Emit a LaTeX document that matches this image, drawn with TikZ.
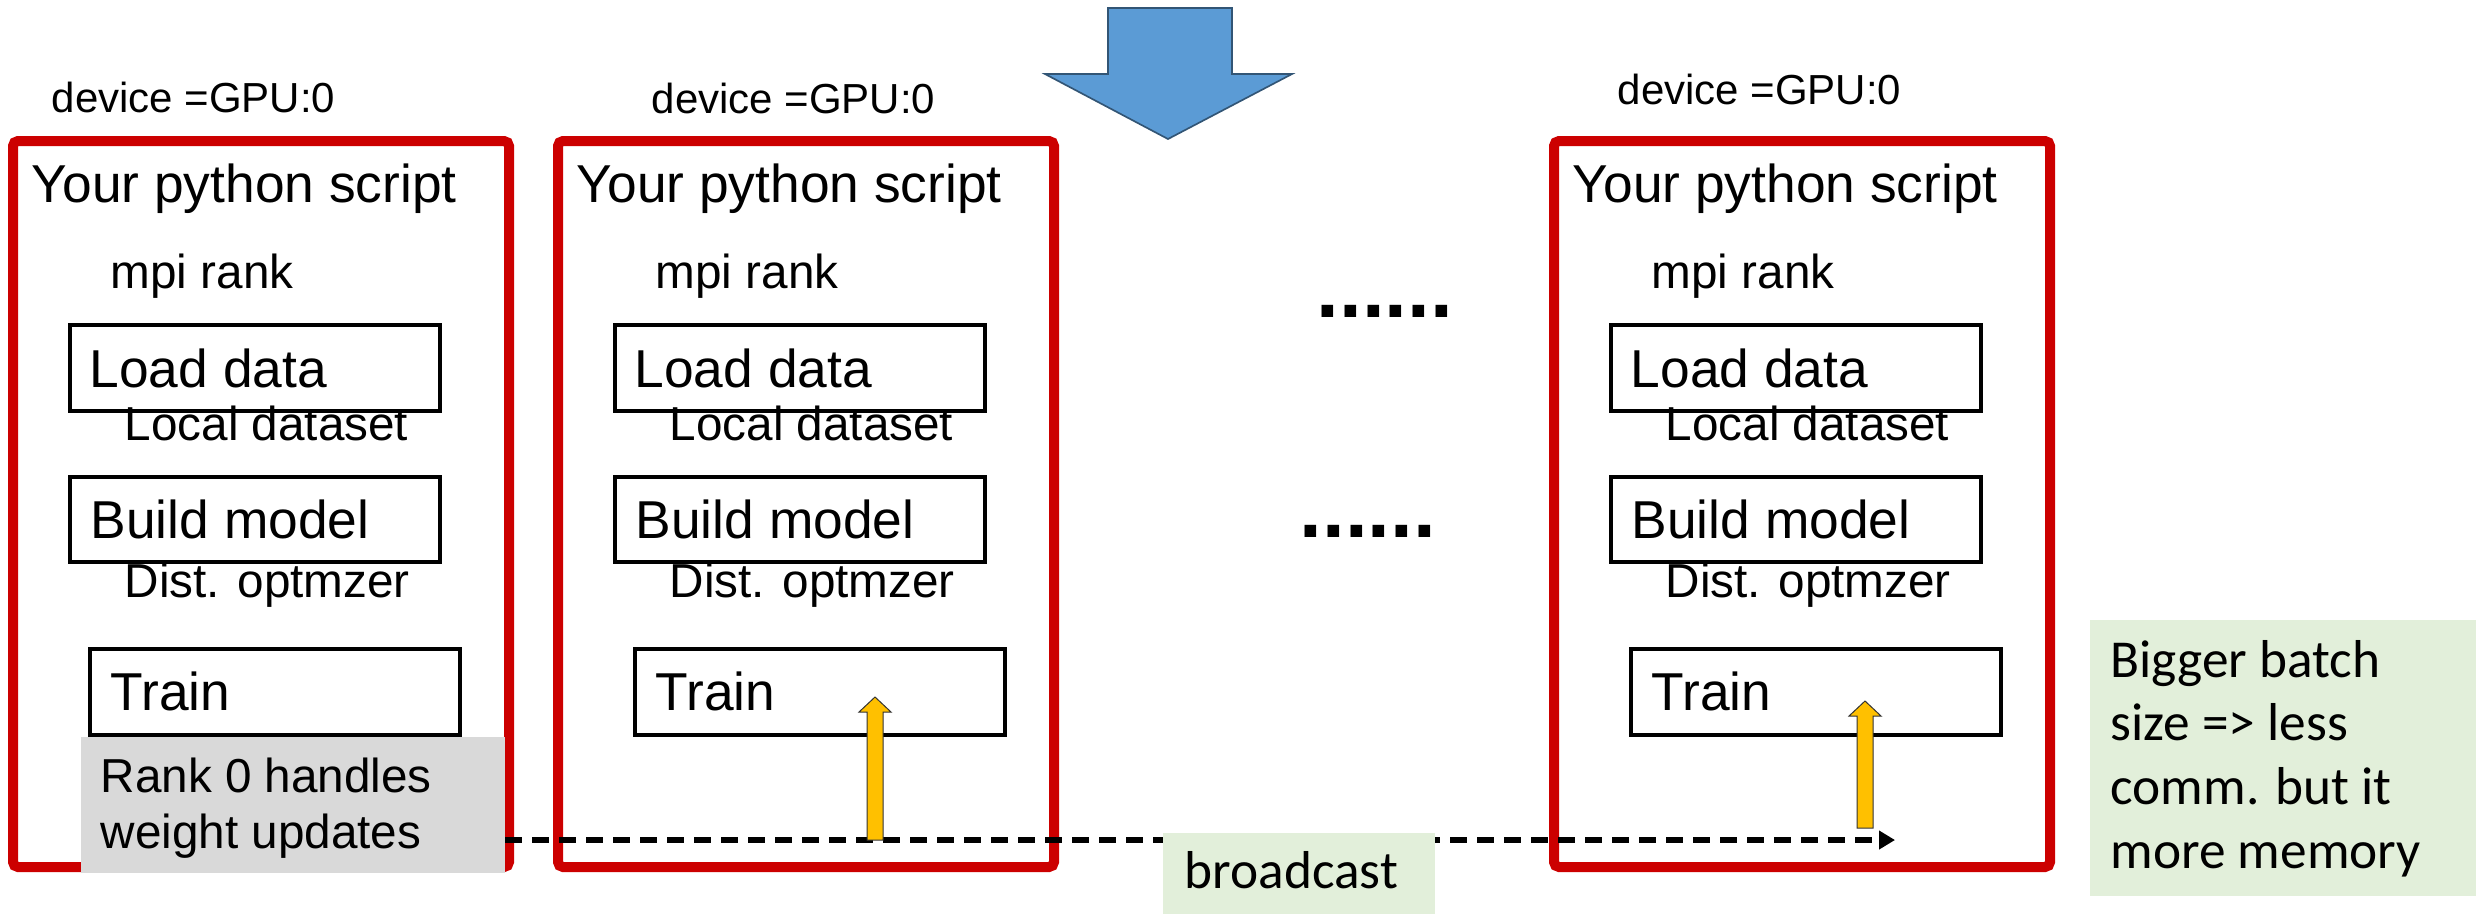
\documentclass[tikz,border=0pt]{standalone}
\usepackage{fontspec}
\setmainfont{Liberation Sans}
\newfontfamily\calibrifont{Carlito}
\usetikzlibrary{arrows.meta}

\definecolor{scriptred}{HTML}{CC0000}
\definecolor{arrowblue}{HTML}{5B9BD5}
\definecolor{arrowyellow}{HTML}{FFC000}
\definecolor{notegreen}{HTML}{E2EFDA}
\definecolor{rankgray}{HTML}{D9D9D9}

\begin{document}
\begin{tikzpicture}[x=0.3pt,y=-0.3pt]
\tikzstyle{every node}=[inner sep=0pt,anchor=base west]
\tikzstyle{script}=[draw=scriptred,line width=3pt,rounded corners=1.5pt]
\tikzstyle{stepbox}=[draw,line width=1.3pt]
\tikzstyle{devtext}=[font=\fontsize{12.6}{15}\selectfont]
\tikzstyle{headtext}=[font=\fontsize{16}{19}\selectfont]
\tikzstyle{subtext}=[font=\fontsize{14.3}{17}\selectfont]
\tikzstyle{dots}=[font=\bfseries\fontsize{24.5}{28}\selectfont]
\tikzstyle{notetext}=[font=\calibrifont\fontsize{16}{19}\selectfont]
\tikzstyle{upblock}=[fill=arrowyellow,draw=black!80,line width=0.3pt]
\tikzstyle{bcast}=[dash pattern=on 5.1pt off 3pt,line width=1.8pt,
  -{Triangle[length=4.8pt,width=5.4pt]}]

\useasboundingbox (0,0) rectangle (2476,916);

%
% Draw the big arrow at the top
%
\filldraw[fill=arrowblue,draw=arrowblue!55!black,line width=0.5pt]
  (1108,8) -- (1232,8) -- (1232,74) -- (1292,74) -- (1168,139)
  -- (1045,74) -- (1108,74) -- cycle;

%
% Draw the three script boxes (shift right by 545 and 1541)
%
\foreach \dx/\i/\devx/\devy in {0/1/51/112, 545/2/651/113, 1541/3/1617/104}
{
  % Red frame and its labels
  \draw[script] (\dx+13,141) rectangle (\dx+509,867);
  \node[devtext] (dev\i) at (\devx,\devy) {device =GPU:0};
  \node[headtext] (head\i) at (\dx+31,202) {Your python script};
  \node[subtext] (mpi\i) at (\dx+110,288) {mpi rank};

  % Load data
  \draw[stepbox] (\dx+70,325) rectangle (\dx+440,411);
  \node[headtext] (load\i) at (\dx+89,387) {Load data};
  \node[subtext] (local\i) at (\dx+124,440) {Local dataset};

  % Build model
  \draw[stepbox] (\dx+70,477) rectangle (\dx+440,562);
  \node[headtext] (build\i) at (\dx+90,538) {Build model};
  \node[subtext] (dist\i) at (\dx+124,597) {Dist. optmzer};

  % Train
  \draw[stepbox] (\dx+90,649) rectangle (\dx+460,735);
  \node[headtext] (train\i) at (\dx+110,710) {Train};
}

% The dots between the second and third box
\node[dots] (dotsA) at (1316,317) {......};
\node[dots] (dotsB) at (1299,537) {......};

%
% Rank 0 note on top of the first box
%
\node[fill=rankgray,anchor=north west,minimum width=127.2pt,minimum height=40.8pt]
  (rank0) at (80,736) {};
\node[subtext] (rank0a) at (100,792) {Rank 0 handles};
\node[subtext] (rank0b) at (100,848) {weight updates};

% Broadcast line
\coordinate (bcastend) at (1895,840);
\draw[bcast] (rank0.east |- bcastend) -- (bcastend);

\node[fill=notegreen,anchor=north west,minimum width=81.6pt,minimum height=24.3pt]
  (bcastbox) at (1162,832) {};
\node[notetext] (bcasttext) at (1184,888) {broadcast};

% Yellow arrows up into the Train boxes
\foreach \ax/\ay/\tip/\k in {875/840/697/2, 1865/828/701/3}
{
  \coordinate (up\k) at (\ax,\ay);
  \filldraw[upblock] (\ax-8,\ay) -- (\ax-8,\tip+15) -- (\ax-16,\tip+15)
    -- (\ax,\tip) -- (\ax+16,\tip+15) -- (\ax+8,\tip+15) -- (\ax+8,\ay) -- cycle;
}

%
% Note on the right
%
\node[fill=notegreen,anchor=north west,minimum width=116.1pt,minimum height=82.8pt]
  (notebox) at (2089,619) {};
\foreach \t [count=\k] in {Bigger batch, size => less, comm. but it, more memory}
  \node[notetext] (note\k) at (2110,{677+63.7*(\k-1)}) {\t};

\end{tikzpicture}
\end{document}
